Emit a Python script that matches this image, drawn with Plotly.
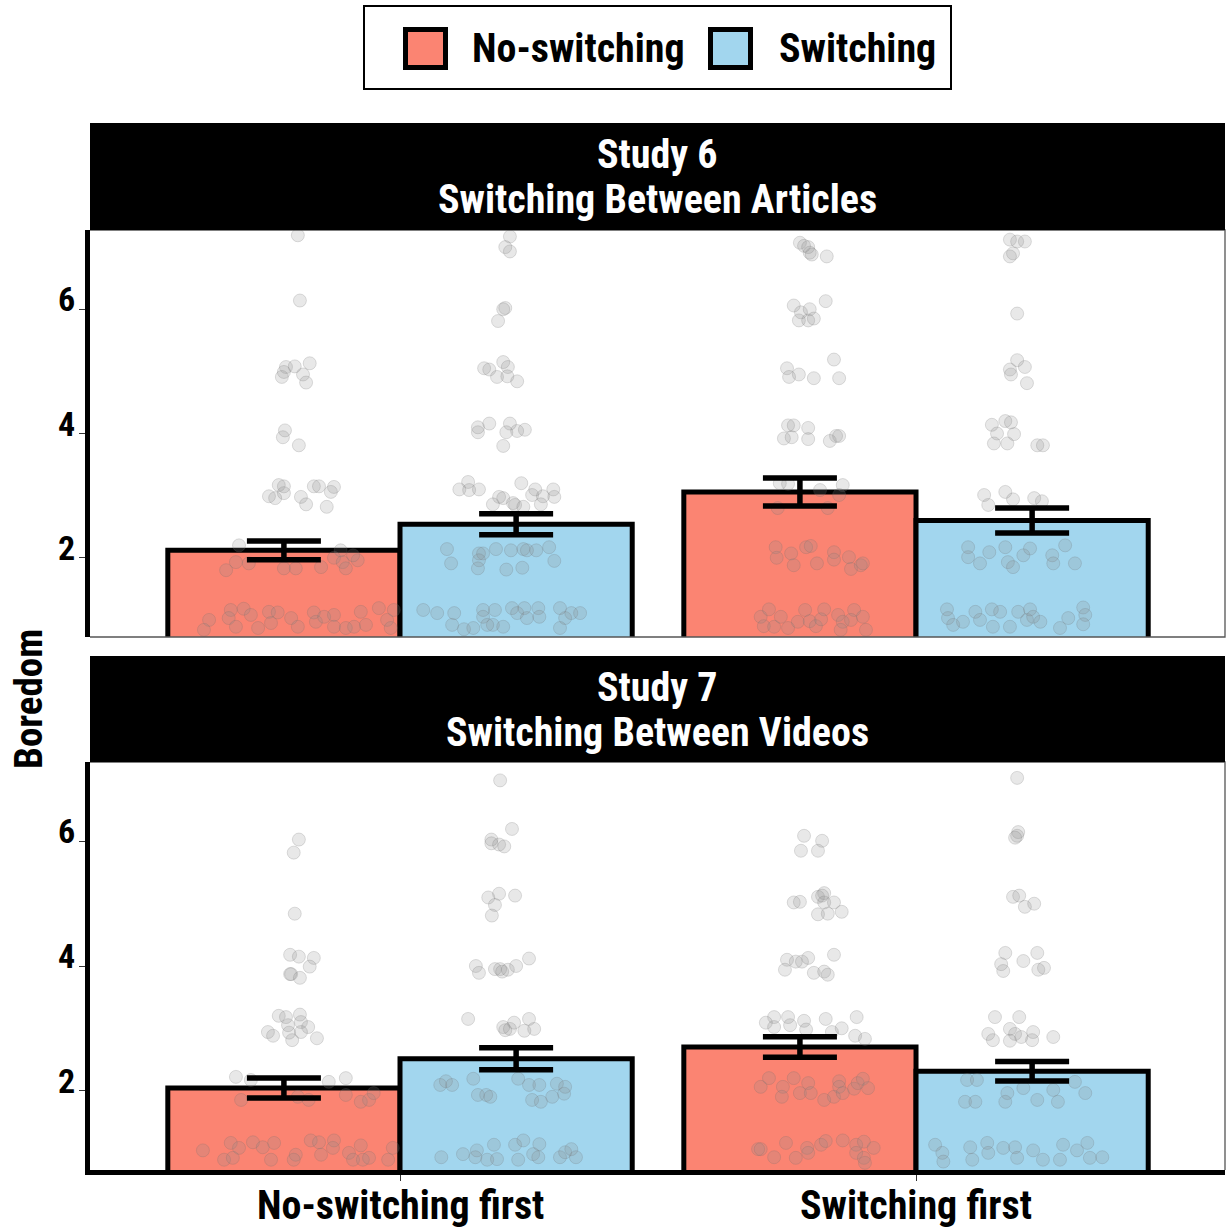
import plotly.graph_objects as go

W, H = 1231, 1230
FONT = "Roboto Condensed, Liberation Sans Narrow, DejaVu Sans Condensed, Arial Narrow, sans-serif"

categories = ["No-switching first", "Switching first"]
conditions = ["No-switching", "Switching"]
cond_colors = ["#FB8472", "#A2D6EE"]
studies = ["Study 6", "Study 7"]
subtitles = ["Switching Between Articles", "Switching Between Videos"]
y_ticks = [2, 4, 6]

# ---- bar means and error half-widths (by category) ----
s6_noswitch_mean = [2.12, 3.06]
s6_switch_mean = [2.54, 2.60]
s6_noswitch_err = [0.15, 0.225]
s6_switch_err = [0.17, 0.20]
s7_noswitch_mean = [2.04, 2.70]
s7_switch_mean = [2.51, 2.31]
s7_noswitch_err = [0.16, 0.165]
s7_switch_err = [0.177, 0.156]

# ---- jittered individual responses: horizontal jitter offset and value ----
# Study 6, No-switching first, No-switching
s6_a_ns_dx = [0.027, 0.031, 0.004, 0.021, 0.050, -0.004, 0.0, 0.037, 0.043, 0.002, -0.002, 0.029,
              -0.010, 0.0, 0.0, -0.029, -0.017, 0.033, 0.043, 0.058, 0.068, 0.097, 0.091, 0.083,
              -0.087, -0.112, -0.093, -0.068, 0.0, 0.023, 0.072, 0.097, 0.114, 0.120, 0.143, 0.134, 0.110,
              -0.145, -0.155, -0.103, -0.107, -0.078, -0.093, -0.064, -0.050, -0.029, -0.025, -0.012, 0.014,
              0.027, 0.058, 0.062, 0.078, 0.097, 0.097, 0.120, 0.136, 0.149, 0.159, 0.184, 0.200, 0.207, 0.213]
s6_a_ns_y = [7.19, 6.14, 5.07, 5.08, 5.13, 4.91, 4.99, 4.95, 4.82, 4.05, 3.94, 3.81,
             3.17, 3.15, 3.04, 2.99, 2.96, 2.98, 2.86, 3.15, 3.15, 3.14, 3.06, 2.82,
             2.2, 1.8, 1.93, 1.91, 1.83, 1.83, 1.85, 2.0, 1.93, 1.83, 1.96, 2.04, 2.12,
             1.0, 0.84, 1.16, 1.03, 1.18, 0.89, 1.08, 0.87, 1.13, 0.95, 1.12, 1.03,
             0.89, 1.12, 0.97, 1.05, 1.08, 0.89, 0.87, 0.89, 1.13, 0.92, 1.19, 1.0, 0.87, 1.16]
# Study 6, No-switching first, Switching
s6_a_sw_dx = [-0.012, -0.021, -0.012, -0.021, -0.025, -0.035, -0.025, -0.062, -0.052, -0.016, -0.037, -0.017, 0.002,
              -0.074, -0.074, -0.052, -0.012, -0.019, 0.002, 0.017, -0.025,
              -0.110, -0.093, -0.091, -0.072, 0.010, 0.037, 0.031, 0.052, 0.072, 0.074, 0.048, -0.045, -0.033,
              -0.025, -0.006, -0.002, 0.014,
              -0.134, -0.126, -0.072, -0.064, -0.072, -0.074, -0.039, -0.010, 0.014, 0.021, 0.039, 0.064, 0.074,
              -0.019, 0.012,
              -0.180, -0.153, -0.120, -0.124, -0.101, -0.083, -0.064, -0.064, -0.041, -0.045, -0.025, -0.008,
              0.002, 0.016, 0.021, 0.043, 0.045, 0.085, 0.095, 0.107, 0.124, 0.085, -0.056]
s6_a_sw_y = [7.17, 7.0, 6.93, 6.02, 6.0, 5.81, 5.15, 5.05, 5.03, 5.07, 4.91, 4.92, 4.84,
             4.1, 4.02, 4.16, 4.16, 4.02, 4.04, 4.06, 3.8,
             3.1, 3.22, 3.09, 3.1, 3.2, 3.1, 3.01, 2.99, 3.1, 2.98, 2.86, 2.86, 2.98,
             2.96, 2.88, 2.85, 2.82,
             2.14, 1.91, 2.07, 2.07, 1.96, 1.83, 2.14, 2.12, 2.14, 2.12, 2.12, 2.17, 1.95,
             1.81, 1.84,
             1.16, 1.11, 1.11, 0.92, 0.85, 0.87, 1.16, 1.05, 1.16, 0.92, 0.89, 1.19,
             1.11, 1.19, 1.03, 1.19, 1.05, 1.19, 1.03, 1.11, 1.11, 0.87, 0.92]
# Study 6, Switching first, No-switching
s6_b_ns_dx = [0.0, 0.008, 0.016, 0.019, 0.023, 0.052, -0.012, 0.002, 0.019, 0.050, -0.002, 0.016, 0.027,
              0.066, -0.025, -0.021, -0.002, 0.027, 0.076, -0.023, -0.012, 0.016, -0.031, -0.016, 0.016,
              0.058, 0.070, 0.076,
              -0.039, -0.023, 0.083, 0.039, 0.076, -0.043, 0.054,
              -0.047, -0.045, -0.017, -0.012, 0.012, 0.021, 0.033, 0.066, 0.066, 0.095, 0.099, 0.118, 0.122,
              -0.076, -0.060, -0.070, -0.050, -0.037, -0.023, -0.004, 0.010, 0.019, 0.031, 0.047, 0.041,
              0.074, 0.083, 0.079, 0.105, 0.099, 0.122, 0.128]
s6_b_ns_y = [7.07, 7.02, 7.0, 6.91, 6.88, 6.85, 6.06, 5.95, 6.0, 6.13, 5.82, 5.82, 5.85,
             5.19, 5.05, 4.91, 4.95, 4.89, 4.89, 4.13, 4.13, 4.09, 3.92, 3.94, 3.91,
             3.88, 3.96, 3.96,
             3.2, 3.19, 3.17, 3.09, 3.01, 2.8, 2.8,
             2.17, 2.0, 2.07, 1.88, 2.17, 2.19, 1.91, 2.09, 1.97, 2.01, 1.82, 1.88, 1.91,
             1.05, 1.17, 0.9, 0.89, 1.05, 0.87, 0.97, 1.16, 0.98, 0.9, 1.17, 1.01,
             1.08, 0.97, 0.84, 1.16, 1.0, 1.05, 0.84]
# Study 6, Switching first, Switching
s6_b_sw_dx = [-0.043, -0.029, -0.014, -0.037, -0.043, -0.029, -0.029, -0.014, -0.043, -0.041, -0.010,
              -0.078, -0.052, -0.041, -0.068, -0.035, -0.074, -0.048, 0.010, 0.021,
              -0.093, -0.052, -0.085, -0.037, 0.004, 0.019,
              -0.124, -0.124, -0.101, -0.083, -0.052, -0.047, -0.037, -0.017, -0.004, 0.039, 0.041, 0.064, 0.083,
              -0.165, -0.163, -0.153, -0.134, -0.110, -0.101, -0.078, -0.076, -0.062, -0.043, -0.027, -0.010,
              -0.004, 0.002, 0.016, 0.054, 0.070, 0.099, 0.103, 0.099]
s6_b_sw_y = [7.12, 7.09, 7.09, 6.9, 6.85, 5.93, 5.18, 5.07, 5.03, 4.95, 4.81,
             4.14, 4.2, 4.18, 4.0, 3.99, 3.84, 3.84, 3.81, 3.81,
             3.01, 3.06, 2.85, 2.94, 2.96, 2.91,
             2.17, 2.01, 1.91, 2.09, 2.17, 1.93, 1.85, 2.04, 2.15, 2.04, 1.91, 2.2, 1.91,
             1.17, 1.03, 0.92, 0.97, 1.13, 1.0, 1.17, 0.89, 1.13, 0.89, 1.13, 1.0,
             1.17, 1.05, 0.97, 0.87, 1.03, 1.2, 1.08, 0.93]
# Study 7, No-switching first, No-switching
s7_a_ns_dx = [0.029, 0.019, 0.021, 0.012, 0.029, 0.058, 0.050, 0.012, 0.014, 0.031, -0.010, 0.004,
              0.031, 0.033, 0.047, 0.008, -0.031, -0.021, 0.010, 0.033, 0.016, 0.064,
              -0.093, -0.064, 0.087, 0.120, -0.083, 0.027, 0.048, 0.120, 0.149, 0.165, 0.174,
              -0.157, -0.103, -0.087, -0.060, -0.041, -0.019, -0.025, -0.116, -0.099, 0.023, 0.019, 0.052,
              0.068, 0.072, 0.097, 0.095, 0.126, 0.134, 0.149, 0.153, 0.165, 0.202, 0.211]
s7_a_ns_y = [6.03, 5.82, 4.84, 4.18, 4.15, 4.13, 3.99, 3.87, 3.87, 3.81, 3.2, 3.18,
             3.22, 3.1, 3.02, 3.05, 2.94, 2.88, 2.93, 2.94, 2.81, 2.84,
             2.22, 2.17, 2.14, 2.2, 1.85, 1.9, 1.85, 1.93, 1.82, 1.85, 1.96,
             1.04, 1.16, 1.08, 1.17, 1.09, 1.16, 0.89, 0.89, 0.92, 0.97, 0.89, 1.2,
             1.17, 0.97, 1.2, 1.08, 1.0, 0.89, 1.12, 0.89, 0.92, 0.89, 1.08]
# Study 7, No-switching first, Switching
s7_a_sw_dx = [-0.031, -0.008, -0.048, -0.048, -0.033, -0.023, -0.054, -0.033, -0.002, -0.041, -0.047,
              -0.078, -0.072, -0.041, -0.031, -0.027, -0.016, 0.0, 0.025,
              -0.093, -0.025, -0.021, -0.012, -0.004, 0.025, 0.016, 0.035,
              -0.147, -0.136, -0.124, -0.083, -0.074, -0.058, -0.050, 0.004, 0.025, 0.045, 0.031, 0.048,
              0.070, 0.079, 0.093, 0.095,
              -0.145, -0.103, -0.076, -0.079, -0.056, -0.043, -0.037, -0.002, 0.014, 0.004, 0.033, 0.045,
              0.043, 0.085, 0.095, 0.107, 0.116]
s7_a_sw_y = [6.98, 6.2, 6.03, 5.97, 5.95, 5.92, 5.1, 5.16, 5.13, 4.98, 4.81,
             4.0, 3.89, 3.95, 3.95, 3.91, 3.94, 4.0, 4.12,
             3.15, 3.02, 2.97, 2.99, 3.09, 3.15, 2.96, 2.99,
             2.09, 2.15, 2.09, 2.19, 1.93, 1.93, 1.9, 2.19, 2.09, 2.09, 1.85, 1.82,
             1.9, 2.11, 1.95, 2.06,
             0.93, 0.98, 1.04, 0.93, 0.89, 1.13, 0.9, 1.13, 1.2, 0.89, 0.98, 1.14,
             0.93, 0.93, 1.01, 1.06, 0.93]
# Study 7, Switching first, No-switching
s7_b_ns_dx = [0.008, 0.043, 0.002, 0.035, -0.012, 0.0, 0.035, 0.047, 0.047, 0.043, 0.066, 0.035, 0.054, 0.081,
              -0.025, -0.008, 0.004, 0.016, 0.066, -0.029, 0.027, 0.047, 0.054,
              -0.050, -0.023, -0.066, -0.050, -0.019, 0.008, 0.050, 0.110, 0.081, 0.012, 0.062, 0.107, 0.126,
              -0.076, -0.060, -0.033, -0.035, -0.012, 0.016, 0.0, 0.021, 0.047, 0.066, 0.076, 0.076, 0.083,
              0.105, 0.112, 0.122, 0.132,
              -0.081, -0.076, -0.050, -0.027, -0.008, 0.014, 0.016, 0.041, 0.050, 0.083, 0.109, 0.109,
              0.124, 0.124, 0.143, 0.126]
s7_b_ns_y = [6.09, 6.01, 5.85, 5.85, 5.02, 5.03, 5.11, 5.17, 5.02, 5.13, 5.02, 4.83, 4.84, 4.87,
             4.1, 4.07, 4.07, 4.13, 4.18, 3.94, 3.89, 3.91, 3.86,
             3.18, 3.18, 3.09, 3.02, 3.05, 3.12, 3.15, 3.18, 3.0, 2.98, 2.94, 2.88, 2.83,
             2.06, 2.2, 2.06, 1.9, 2.2, 2.12, 1.96, 1.96, 1.85, 1.9, 2.15, 2.06, 1.96,
             2.03, 2.12, 2.19, 2.04,
             1.06, 1.06, 0.93, 1.16, 0.92, 1.08, 1.0, 1.13, 1.19, 1.2, 1.13, 1.0,
             1.18, 0.92, 1.08, 0.84]
# Study 7, Switching first, Switching
s7_b_sw_dx = [-0.029, -0.027, -0.029, -0.033, -0.037, -0.025, -0.014, 0.004, -0.052, 0.010, -0.017,
              -0.060, -0.056, 0.012, 0.023,
              -0.072, -0.025, -0.085, -0.043, -0.033, -0.076, -0.043, -0.021, 0.002, 0.0, 0.041,
              -0.126, -0.107, -0.130, -0.110, -0.048, -0.052, -0.017, 0.010, 0.041, 0.050, 0.083, 0.103,
              -0.188, -0.174, -0.172, -0.120, -0.116, -0.087, -0.085, -0.056, -0.033, -0.029, 0.002, 0.021,
              0.060, 0.087, 0.107, 0.112, 0.136, 0.054]
s7_b_sw_y = [7.02, 6.15, 6.09, 6.06, 5.11, 5.13, 4.95, 5.0, 4.21, 4.21, 4.08,
             4.03, 3.92, 3.94, 3.97,
             3.18, 3.18, 2.91, 2.99, 2.91, 2.81, 2.8, 2.86, 2.94, 2.81, 2.86,
             2.17, 2.17, 1.82, 1.82, 1.96, 1.82, 2.04, 1.85, 2.01, 1.82, 2.14, 1.96,
             1.13, 1.0, 0.86, 1.09, 0.89, 1.16, 1.0, 1.08, 1.09, 0.92, 1.04, 0.89,
             1.13, 1.04, 1.16, 0.92, 0.93, 0.89]

panels = [
    {
        "means": [s6_noswitch_mean, s6_switch_mean],
        "errs": [s6_noswitch_err, s6_switch_err],
        "points": [[(s6_a_ns_dx, s6_a_ns_y), (s6_a_sw_dx, s6_a_sw_y)],
                   [(s6_b_ns_dx, s6_b_ns_y), (s6_b_sw_dx, s6_b_sw_y)]],
    },
    {
        "means": [s7_noswitch_mean, s7_switch_mean],
        "errs": [s7_noswitch_err, s7_switch_err],
        "points": [[(s7_a_ns_dx, s7_a_ns_y), (s7_a_sw_dx, s7_a_sw_y)],
                   [(s7_b_ns_dx, s7_b_ns_y), (s7_b_sw_dx, s7_b_sw_y)]],
    },
]

BAR_W = 0.45
DODGE = [-0.225, 0.225]
cat_idx = list(range(len(categories)))

# layout geometry in px (converted to paper fractions)
PX_L, PX_R = 90, 1225
panel_px = [(230, 637), (762, 1170)]
strip_px = [(123, 230), (656, 762)]
YR = [0.725, 7.275]
XR = [-0.6008, 1.5988]


def px_x(p):
    return p / W


def px_y(p):
    return 1 - p / H


fig = go.Figure()
shapes = []
annotations = []

for pi, panel in enumerate(panels):
    xa = "x" if pi == 0 else "x2"
    ya = "y" if pi == 0 else "y2"
    # bars
    for ci, cond in enumerate(conditions):
        fig.add_trace(go.Bar(
            x=[c + DODGE[ci] for c in cat_idx], y=panel["means"][ci], width=BAR_W,
            marker=dict(color=cond_colors[ci], line=dict(color="black", width=5)),
            xaxis=xa, yaxis=ya, showlegend=False, hoverinfo="skip"))
    # jittered points
    for k in cat_idx:
        for ci in range(len(conditions)):
            dx, yy = panel["points"][k][ci]
            fig.add_trace(go.Scatter(
                x=[k + DODGE[ci] + d for d in dx], y=yy, mode="markers",
                marker=dict(size=13, color="rgba(140,140,140,0.2)",
                            line=dict(color="rgba(110,110,110,0.22)", width=1)),
                xaxis=xa, yaxis=ya, showlegend=False, hoverinfo="skip"))
    # error bars
    for ci in range(len(conditions)):
        fig.add_trace(go.Scatter(
            x=[c + DODGE[ci] for c in cat_idx], y=panel["means"][ci], mode="markers",
            marker=dict(size=1, color="rgba(0,0,0,0)"),
            error_y=dict(type="data", array=panel["errs"][ci], color="black",
                         thickness=5.5, width=37),
            xaxis=xa, yaxis=ya, showlegend=False, hoverinfo="skip"))

    top, bot = panel_px[pi]
    # thin panel border (top, right, and bottom for the upper panel)
    if pi == 0:
        path = f"M {px_x(PX_L)},{px_y(top)} L {px_x(PX_R)},{px_y(top)} L {px_x(PX_R)},{px_y(bot)} L {px_x(PX_L)},{px_y(bot)}"
    else:
        path = f"M {px_x(PX_L)},{px_y(top)} L {px_x(PX_R)},{px_y(top)} L {px_x(PX_R)},{px_y(bot)}"
    shapes.append(dict(type="path", xref="paper", yref="paper", path=path,
                       line=dict(color="#555555", width=1.3), layer="above"))
    # strip
    s0, s1 = strip_px[pi]
    shapes.append(dict(type="rect", xref="paper", yref="paper",
                       x0=px_x(PX_L), x1=px_x(PX_R), y0=px_y(s1), y1=px_y(s0),
                       fillcolor="black", line=dict(width=0)))
    cx = px_x((PX_L + PX_R) / 2)
    annotations.append(dict(text=studies[pi], x=cx, y=px_y(s0 + 31), xref="paper", yref="paper",
                            showarrow=False, xanchor="center", yanchor="middle", height=44,
                            font=dict(family=FONT, size=40, color="white", weight=700)))
    annotations.append(dict(text=subtitles[pi], x=cx, y=px_y(s0 + 76), xref="paper", yref="paper",
                            showarrow=False, xanchor="center", yanchor="middle", height=44,
                            font=dict(family=FONT, size=40, color="white", weight=700)))
    # y tick labels
    for v in y_ticks:
        annotations.append(dict(text=str(v), x=px_x(77), y=v, xref="paper", yref=ya,
                                showarrow=False, xanchor="right", yanchor="middle", yshift=10,
                                font=dict(family=FONT, size=34, color="black", weight=700)))

# x tick labels (bottom panel only)
for k, cat in zip(cat_idx, categories):
    annotations.append(dict(text=cat, x=k, y=px_y(1205), xref="x2", yref="paper",
                            showarrow=False, xanchor="center", yanchor="middle",
                            font=dict(family=FONT, size=40, color="black", weight=700)))

# y-axis title
annotations.append(dict(text="Boredom", x=px_x(29), y=px_y(699), xref="paper", yref="paper",
                        textangle=-90, showarrow=False, xanchor="center", yanchor="middle",
                        font=dict(family=FONT, size=39, color="black", weight=700)))

# legend (drawn)
shapes.append(dict(type="rect", xref="paper", yref="paper",
                   x0=px_x(364), x1=px_x(951), y0=px_y(89), y1=px_y(6),
                   line=dict(color="black", width=2), fillcolor="white"))
legend_key_x = [405.5, 710.5]
legend_text_x = [470, 777]
for ci, cond in enumerate(conditions):
    shapes.append(dict(type="rect", xref="paper", yref="paper",
                       x0=px_x(legend_key_x[ci]), x1=px_x(legend_key_x[ci] + 40),
                       y0=px_y(67.5), y1=px_y(29.5),
                       line=dict(color="black", width=5), fillcolor=cond_colors[ci]))
    annotations.append(dict(text=cond, x=px_x(legend_text_x[ci]), y=px_y(49), xref="paper", yref="paper",
                            showarrow=False, xanchor="left", yanchor="middle",
                            font=dict(family=FONT, size=40, color="black", weight=700)))

xdom = [px_x(PX_L), px_x(PX_R)]
axis_common = dict(range=XR, domain=xdom, showgrid=False, zeroline=False, fixedrange=True)
yaxis_common = dict(range=YR, showgrid=False, zeroline=False, tickvals=y_ticks, showticklabels=False,
                    ticks="outside", ticklen=6, tickwidth=1, tickcolor="#333333",
                    showline=True, linewidth=5, linecolor="black", fixedrange=True)

fig.update_layout(
    autosize=True, margin=dict(l=0, r=0, t=0, b=0, pad=0),
    paper_bgcolor="white", plot_bgcolor="white",
    barmode="overlay", showlegend=False,
    font=dict(family=FONT, color="black"),
    xaxis=dict(**axis_common, anchor="y", showticklabels=False, ticks="", showline=False),
    yaxis=dict(**yaxis_common, domain=[px_y(panel_px[0][1]), px_y(panel_px[0][0])], anchor="x"),
    xaxis2=dict(**axis_common, anchor="y2", tickvals=cat_idx, showticklabels=False,
                ticks="outside", ticklen=6, tickwidth=1, tickcolor="#333333",
                showline=True, linewidth=5, linecolor="black"),
    yaxis2=dict(**yaxis_common, domain=[px_y(panel_px[1][1]), px_y(panel_px[1][0])], anchor="x2"),
    shapes=shapes, annotations=annotations,
)

fig.write_html(
    "out.html",
    config={"displayModeBar": False, "responsive": True},
    default_width="100vw",
    default_height="100vh",
    post_script=(
        "document.documentElement.style.margin='0';"
        "document.documentElement.style.overflow='hidden';"
        "document.body.style.margin='0';document.body.style.overflow='hidden';"
        "var gd=document.getElementById('{plot_id}');"
        "gd.style.position='fixed';gd.style.left='0px';gd.style.top='0px';"
        "gd.style.width='100vw';gd.style.height='100vh';"
        "Plotly.Plots.resize(gd);"
    ),
)
